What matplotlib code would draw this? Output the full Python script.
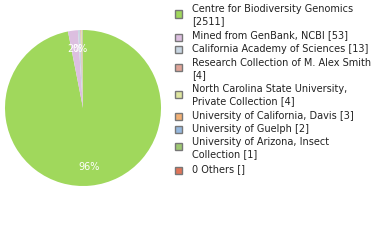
import matplotlib
matplotlib.use("Agg")
import matplotlib.pyplot as plt
from matplotlib.patches import Rectangle
import math

labels = ["Centre for Biodiversity Genomics\n[2511]",
          "Mined from GenBank, NCBI [53]",
          "California Academy of Sciences [13]",
          "Research Collection of M. Alex Smith\n[4]",
          "North Carolina State University,\nPrivate Collection [4]",
          "University of California, Davis [3]",
          "University of Guelph [2]",
          "University of Arizona, Insect\nCollection [1]",
          "0 Others []"]
values = [2511, 53, 13, 4, 4, 3, 2, 1, 0]
colors = ["#a0d85c", "#dcbfe0", "#c8d6e2", "#e0a498", "#dfe6a0",
          "#f2b074", "#96b8de", "#9ec872", "#e07458"]

W, H = 380, 240
fig = plt.figure(figsize=(W/100, H/100), dpi=100)
ax = fig.add_axes([5/W, 1-186/H, 156/W, 156/H])

def pct(p):
    return "%d%%" % math.floor(p) if p >= 0.5 else ""

wedges, texts, autotexts = ax.pie(values, colors=colors, startangle=90,
                                  counterclock=False, autopct=pct,
                                  pctdistance=0.76,
                                  wedgeprops=dict(linewidth=0),
                                  textprops=dict(color="white", fontsize=7,
                                                 family="DejaVu Sans"))
ax.set_xlim(-1, 1)
ax.set_ylim(-1, 1)
ax.set_aspect("equal")

# legend
swatch_y = [14, 37, 49, 67, 94, 116, 129, 146, 170]
text_y = [9, 35, 49, 63, 89, 116, 129, 142, 169]
line_h = 12.5
for lab, col, sy, ty in zip(labels, colors, swatch_y, text_y):
    fig.patches.append(Rectangle((175/W, 1-(sy+3.5)/H), 7/W, 7/H,
                                 transform=fig.transFigure,
                                 facecolor=col, edgecolor="#777777",
                                 linewidth=1))
    for i, line in enumerate(lab.split("\n")):
        fig.text(192/W, 1-(ty+i*line_h)/H, line, fontsize=7,
                 family="DejaVu Sans", color="#222222", va="center", ha="left")

fig.savefig("out.png", dpi=100)
